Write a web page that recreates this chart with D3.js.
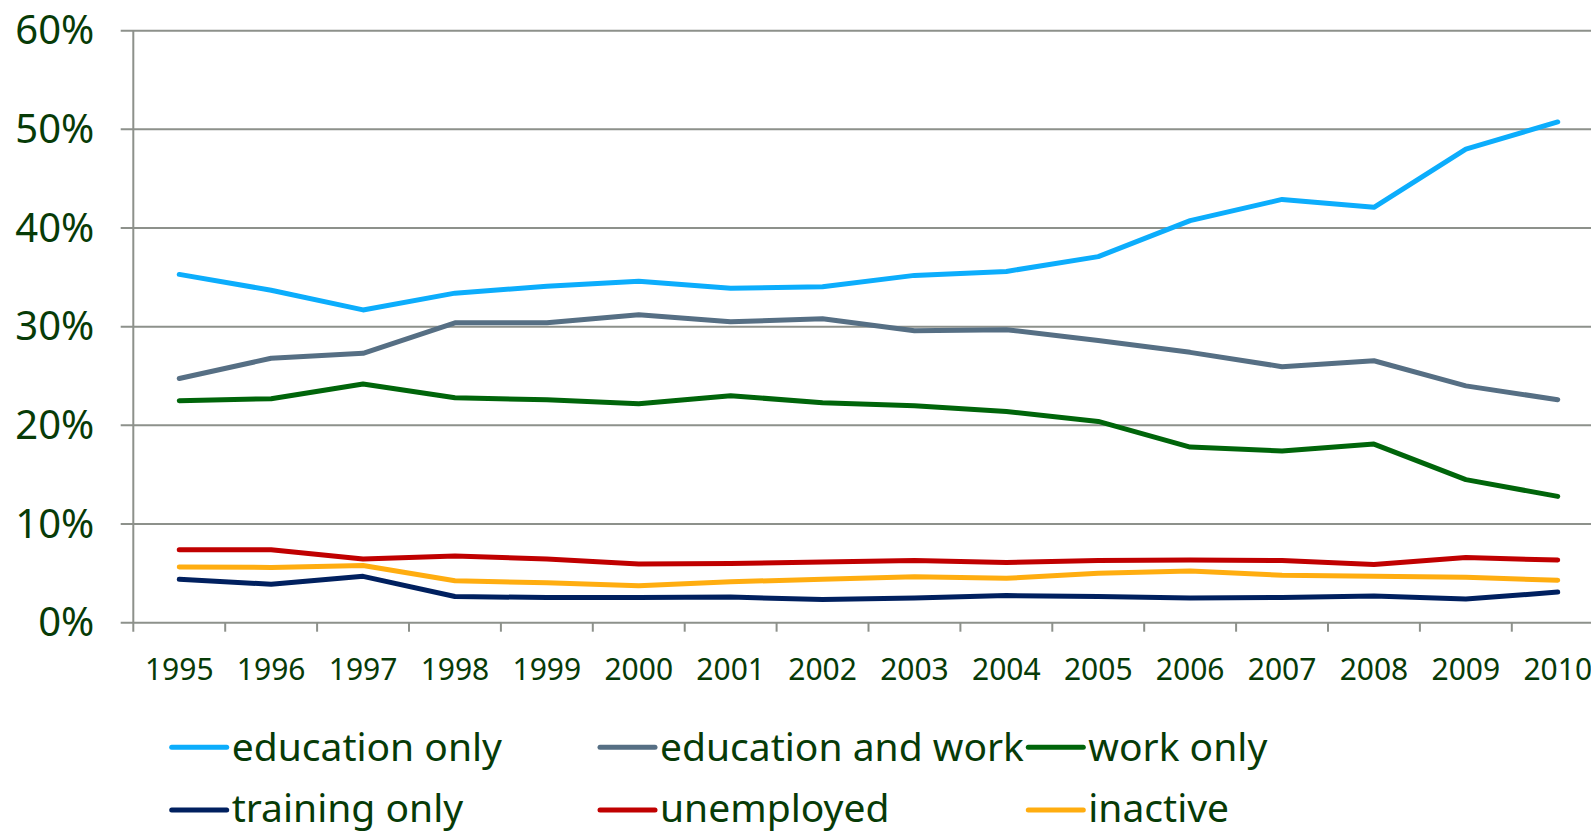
<!DOCTYPE html>
<html>
<head>
<meta charset="utf-8">
<script src="https://cdn.jsdelivr.net/npm/d3@7/dist/d3.min.js"></script>
<style>
  html, body { margin: 0; padding: 0; background: #ffffff; }
  svg { display: block; }
  text { font-family: "Noto Sans", "Open Sans", sans-serif; fill: #073b07; }
</style>
</head>
<body>
<svg id="chart" width="1591" height="833"></svg>
<script>
const years = ["1995","1996","1997","1998","1999","2000","2001","2002","2003","2004","2005","2006","2007","2008","2009","2010"];
const yTicks = [0, 0.1, 0.2, 0.3, 0.4, 0.5, 0.6];
const seriesNames = ["education only", "education and work", "work only", "training only", "unemployed", "inactive"];
const seriesColors = ["#0cadfc", "#566f84", "#00650a", "#00205f", "#c00000", "#ffad10"];

const educationOnly   = [35.3, 33.7, 31.7, 33.4, 34.1, 34.6, 33.9, 34.05, 35.2, 35.6, 37.1, 40.75, 42.9, 42.1, 48.0, 50.75];
const educationAndWork= [24.75, 26.8, 27.3, 30.4, 30.4, 31.2, 30.5, 30.8, 29.6, 29.7, 28.6, 27.4, 25.95, 26.55, 24.0, 22.6];
const workOnly        = [22.5, 22.7, 24.2, 22.8, 22.6, 22.2, 23.0, 22.3, 22.0, 21.4, 20.4, 17.8, 17.4, 18.1, 14.5, 12.8];
const trainingOnly    = [4.4, 3.9, 4.7, 2.65, 2.55, 2.55, 2.6, 2.35, 2.5, 2.75, 2.65, 2.5, 2.55, 2.7, 2.4, 3.1];
const unemployed      = [7.4, 7.4, 6.45, 6.75, 6.45, 5.95, 6.0, 6.15, 6.3, 6.1, 6.3, 6.35, 6.3, 5.9, 6.6, 6.35];
const inactive        = [5.65, 5.6, 5.8, 4.25, 4.05, 3.75, 4.15, 4.4, 4.65, 4.5, 5.0, 5.25, 4.8, 4.7, 4.6, 4.3];

const seriesValues = [educationOnly, educationAndWork, workOnly, trainingOnly, unemployed, inactive];

const W = 1591, H = 833;
const axisX = 133.3, plotTop = 30.7, plotBottom = 622.7;
const bandW = 91.9;
const gridColor = "#8d918b";

const svg = d3.select("#chart");

const x = d3.scaleBand().domain(years).range([axisX, axisX + bandW * years.length]).padding(0);
const y = d3.scaleLinear().domain([0, 0.6]).range([plotBottom, plotTop]);

// gridlines
svg.append("g").selectAll("line").data(yTicks).join("line")
  .attr("x1", axisX - 12.6).attr("x2", W)
  .attr("y1", d => y(d)).attr("y2", d => y(d))
  .attr("stroke", gridColor).attr("stroke-width", 2);

// y axis line
svg.append("line")
  .attr("x1", axisX).attr("x2", axisX)
  .attr("y1", y(0.6)).attr("y2", plotBottom + 9)
  .attr("stroke", gridColor).attr("stroke-width", 2);

// x ticks at band boundaries
const boundaries = years.map(d => x(d)).slice(1);
svg.append("g").selectAll("line").data(boundaries).join("line")
  .attr("x1", d => d).attr("x2", d => d)
  .attr("y1", plotBottom).attr("y2", plotBottom + 9)
  .attr("stroke", gridColor).attr("stroke-width", 2);

// y labels
const pct = d3.format(".0%");
svg.append("g").selectAll("text").data(yTicks).join("text")
  .attr("x", 94.3).attr("y", d => y(d) + 13.6)
  .attr("text-anchor", "end")
  .style("font-size", "40px")
  .text(d => pct(d));

// x labels
svg.append("g").selectAll("text").data(years).join("text")
  .attr("x", d => x(d) + x.bandwidth() / 2).attr("y", 680)
  .attr("text-anchor", "middle")
  .style("font-size", "30px")
  .text(d => d);

// lines
const line = d3.line()
  .x((d, i) => x(years[i]) + x.bandwidth() / 2)
  .y(d => y(d / 100));

svg.append("g").selectAll("path").data(seriesValues).join("path")
  .attr("d", d => line(d))
  .attr("fill", "none")
  .attr("stroke", (d, i) => seriesColors[i])
  .attr("stroke-width", 5)
  .attr("stroke-linecap", "round")
  .attr("stroke-linejoin", "round");

// legend
const legendX = [171.7, 600, 1028.3];
const legendY = [747.3, 810];
const lg = svg.append("g").selectAll("g").data(seriesNames).join("g")
  .attr("transform", (d, i) => `translate(${legendX[i % 3]},${legendY[Math.floor(i / 3)]})`);
lg.append("line")
  .attr("x1", 0).attr("x2", 55).attr("y1", 0).attr("y2", 0)
  .attr("stroke", (d, i) => seriesColors[i])
  .attr("stroke-width", 5).attr("stroke-linecap", "round");
lg.append("text")
  .attr("x", 60).attr("y", (d, i) => i < 3 ? 14 : 12)
  .style("font-size", "39px")
  .text(d => d);
</script>
</body>
</html>
